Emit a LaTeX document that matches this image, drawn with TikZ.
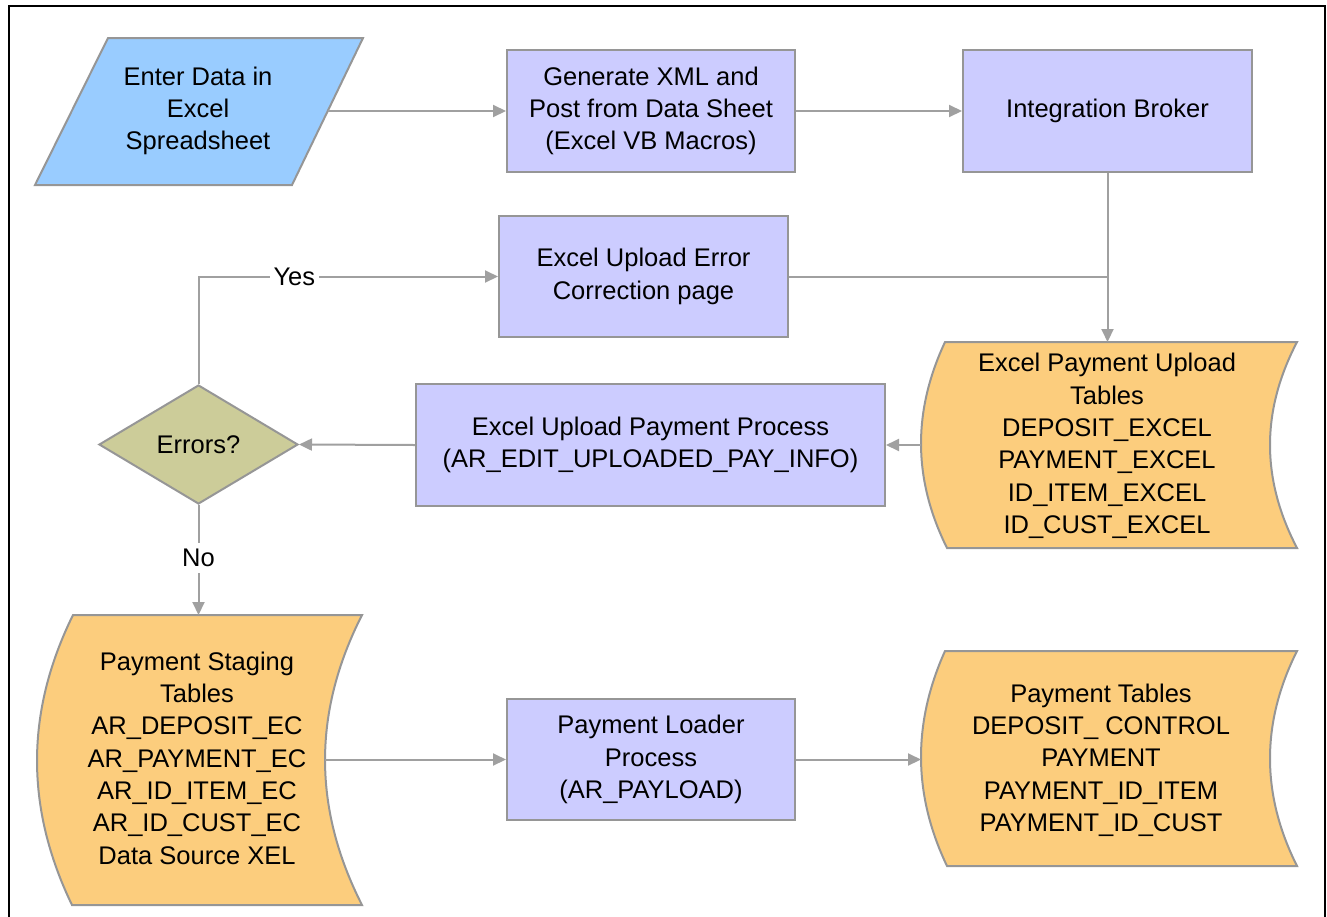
\documentclass[tikz,border=0pt]{standalone}
\usepackage{fontspec}
\setmainfont{Liberation Sans}
\usetikzlibrary{arrows.meta,shapes.geometric}
\definecolor{lineg}{RGB}{160,160,160}
\definecolor{edgeg}{RGB}{150,150,150}
\definecolor{procfill}{RGB}{204,204,255}
\definecolor{inputfill}{RGB}{153,204,255}
\definecolor{decfill}{RGB}{204,204,153}
\definecolor{storefill}{RGB}{252,205,125}
\begin{document}
\begin{tikzpicture}[x=1pt,y=-1pt,
  lbl/.style={font=\fontsize{25.5}{32.3}\selectfont, align=center, text=black},
  proc/.style={lbl, draw=edgeg, fill=procfill, line width=2pt, inner sep=0pt},
  shapeline/.style={draw=edgeg, line width=2pt},
  conn/.style={draw=lineg, line width=2pt, -{Triangle[length=13pt,width=12pt]}},
  plain/.style={draw=lineg, line width=2pt},
  edgelbl/.style={lbl, fill=white, inner xsep=4pt, inner ysep=6pt}]
\useasboundingbox (0,0) rectangle (1327,916);
\draw[line width=2.5pt] (9,930) -- (9,6) -- (1325,6) -- (1325,930);

% input parallelogram
\draw[shapeline, fill=inputfill] (108,38) -- (363,38) -- (292,185) -- (35,185) -- cycle;
\node[lbl] (enter) at (198,111) {Enter Data in\\Excel\\Spreadsheet};
\coordinate (enterE) at (327.5,111);

% process boxes
\node[proc, minimum width=288pt, minimum height=122pt] (gen) at (651,111)
  {Generate XML and\\Post from Data Sheet\\(Excel VB Macros)};
\node[proc, minimum width=289pt, minimum height=122pt] (broker) at (1107.5,111)
  {Integration Broker};
\node[proc, minimum width=289pt, minimum height=121pt] (err) at (643.5,276.5)
  {Excel Upload Error\\Correction page};
\node[proc, minimum width=469pt, minimum height=122pt] (edit) at (650.5,445)
  {Excel Upload Payment Process\\(AR\_EDIT\_UPLOADED\_PAY\_INFO)};
\node[proc, minimum width=288pt, minimum height=121pt] (loader) at (651,759.5)
  {Payment Loader\\Process\\(AR\_PAYLOAD)};

% decision
\node[lbl, diamond, draw=edgeg, fill=decfill, line width=2pt, minimum width=199pt,
  minimum height=119pt, inner sep=0pt, aspect=1.67] (dec) at (198.5,444.5) {Errors?};

% stored data: upload tables
\draw[shapeline, fill=storefill] (945,342) -- (1297,342)
  .. controls (1261,411) and (1261,479) .. (1297,548) -- (947,548)
  .. controls (912.7,479) and (912.7,411) .. (945,342) -- cycle;
\node[lbl] (upl) at (1107,446) {Excel Payment Upload\\Tables\\DEPOSIT\_EXCEL\\PAYMENT\_EXCEL\\ID\_ITEM\_EXCEL\\ID\_CUST\_EXCEL};
\coordinate (uplN) at (1107.5,342);
\coordinate (uplW) at (921,445);

% stored data: staging tables
\draw[shapeline, fill=storefill] (73,615) -- (362,615)
  .. controls (312.7,712) and (312.7,808) .. (362,905) -- (72,905)
  .. controls (25.2,808) and (25.2,712) .. (73,615) -- cycle;
\node[lbl] (stg) at (197,758) {Payment Staging\\Tables\\AR\_DEPOSIT\_EC\\AR\_PAYMENT\_EC\\AR\_ID\_ITEM\_EC\\AR\_ID\_CUST\_EC\\Data Source XEL};
\coordinate (stgN) at (198.5,615);
\coordinate (stgE) at (325,759.5);

% stored data: payment tables
\draw[shapeline, fill=storefill] (945,651) -- (1297,651)
  .. controls (1261,722.7) and (1261,794.3) .. (1297,866) -- (947,866)
  .. controls (912.7,794.3) and (912.7,722.7) .. (945,651) -- cycle;
\node[lbl] (pay) at (1101,760) {Payment Tables\\DEPOSIT\_ CONTROL\\PAYMENT\\PAYMENT\_ID\_ITEM\\PAYMENT\_ID\_CUST};
\coordinate (payW) at (921,759.5);

% connectors
\draw[conn] (enterE) -- (gen.west);
\draw[conn] (gen.east) -- (broker.west);
\draw[conn] (broker.south) -- (uplN);
\draw[plain] (err.east) -- (err.east -| broker.south);
\draw[conn] (uplW) -- (edit.east);
\draw[conn] (edit.west) -- (dec.east);
\draw[conn] (dec.north) |- node[edgelbl, pos=0.66] {Yes} (err.west);
\draw[conn] (dec.south) -- node[edgelbl, pos=0.48] {No} (stgN);
\draw[conn] (stgE) -- (loader.west);
\draw[conn] (loader.east) -- (payW);
\end{tikzpicture}
\end{document}
